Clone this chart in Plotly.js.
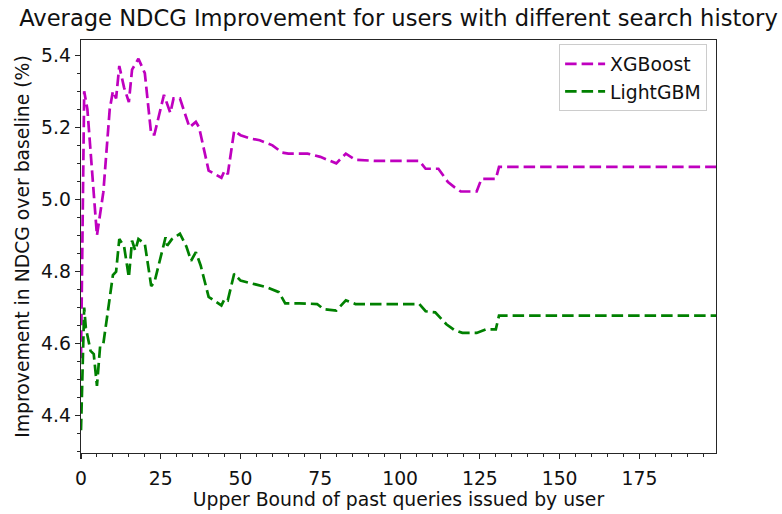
<!DOCTYPE html>
<html>
<head>
<meta charset="utf-8">
<script src="https://cdn.plot.ly/plotly-3.0.1.min.js"></script>
<style>html,body{margin:0;padding:0;background:#fff;}#chart{width:782px;height:514px;}</style>
</head>
<body>
<div id="chart"></div>
<script>
// Data
const xgbX = [0, 1, 2, 5, 7, 9, 10, 11, 12, 13.5, 15, 16, 18, 20, 22, 23, 26, 28, 29, 31, 34, 36, 37, 40, 44, 45, 46, 48, 50, 53, 56, 60, 63, 65, 71, 75, 80, 83, 86, 92, 106, 108, 112, 115, 117, 119, 124, 125.5, 130, 131, 199];
const xgbY = [4.56, 5.30, 5.25, 4.90, 5.02, 5.25, 5.30, 5.28, 5.37, 5.31, 5.27, 5.36, 5.39, 5.35, 5.18, 5.18, 5.29, 5.24, 5.28, 5.28, 5.20, 5.215, 5.20, 5.08, 5.06, 5.08, 5.07, 5.19, 5.178, 5.169, 5.164, 5.15, 5.13, 5.127, 5.127, 5.118, 5.10, 5.127, 5.11, 5.107, 5.107, 5.085, 5.085, 5.048, 5.034, 5.022, 5.022, 5.057, 5.057, 5.09, 5.09];

const lgbX = [0, 1, 1.5, 3, 4, 5, 6, 7, 10, 11, 12, 13.5, 15, 16, 17, 18, 20, 22, 23, 26.5, 27, 28.5, 31, 33, 34.5, 36, 37.5, 40, 44, 45, 46, 48, 50, 54, 58, 62, 64, 68.5, 74, 76, 80, 83, 86, 96, 106, 108, 111, 114.5, 117, 119.5, 124, 127, 130, 131, 199];
const lgbY = [4.36, 4.70, 4.645, 4.58, 4.571, 4.483, 4.594, 4.60, 4.79, 4.80, 4.89, 4.87, 4.784, 4.886, 4.858, 4.89, 4.877, 4.76, 4.77, 4.895, 4.872, 4.89, 4.905, 4.87, 4.83, 4.854, 4.817, 4.73, 4.706, 4.724, 4.72, 4.794, 4.775, 4.766, 4.757, 4.743, 4.712, 4.712, 4.71, 4.696, 4.692, 4.72, 4.71, 4.71, 4.71, 4.69, 4.687, 4.654, 4.638, 4.63, 4.63, 4.64, 4.64, 4.678, 4.678];

const xTicks = [0, 25, 50, 75, 100, 125, 150, 175];
const yTicks = [4.4, 4.6, 4.8, 5.0, 5.2, 5.4];

const FONT = 'DejaVu Sans, sans-serif';
const dashPattern = '11.5px,5px';
const FS = 18.8;

const traces = [
  {x: xgbX, y: xgbY, name: 'XGBoost', type: 'scatter', mode: 'lines',
   line: {color: '#bf00bf', width: 2.7, dash: dashPattern}},
  {x: lgbX, y: lgbY, name: 'LightGBM', type: 'scatter', mode: 'lines',
   line: {color: '#008000', width: 2.7, dash: dashPattern}}
];

const axisCommon = {
  showline: true, mirror: true, linecolor: '#262626', linewidth: 1.3,
  ticks: 'outside', ticklen: 5, tickwidth: 1.1, tickcolor: '#262626',
  showgrid: false, zeroline: false,
  tickfont: {family: FONT, size: FS, color: '#111'}
};

const layout = {
  width: 782, height: 514,
  margin: {l: 81, r: 66, t: 40, b: 61},
  paper_bgcolor: '#fff', plot_bgcolor: '#fff',
  showlegend: true,
  title: {text: 'Average NDCG Improvement for users with different search history',
          font: {family: FONT, size: 22.6, color: '#111'},
          x: 0.5, xref: 'paper', xanchor: 'center',
          y: 1 - 18/514, yref: 'container', yanchor: 'middle'},
  xaxis: Object.assign({}, axisCommon, {
    range: [0, 199], tickvals: xTicks, ticktext: xTicks.map(String),
    ticklabelstandoff: 3,
    minor: {dtick: 5, tick0: 0, ticks: 'outside', ticklen: 3, tickwidth: 1, tickcolor: '#262626'},
    title: {text: 'Upper Bound of past queries issued by user',
            font: {family: FONT, size: FS, color: '#111'}, standoff: 3}
  }),
  yaxis: Object.assign({}, axisCommon, {
    range: [4.297, 5.442], tickvals: yTicks, ticktext: yTicks.map(v => v.toFixed(1)),
    minor: {dtick: 0.05, tick0: 4.3, ticks: 'outside', ticklen: 3, tickwidth: 1, tickcolor: '#262626'},
    title: {text: 'Improvement in NDCG over baseline (%)',
            font: {family: FONT, size: FS, color: '#111'}, standoff: 6}
  }),
  legend: {x: 0.986, y: 0.99, xanchor: 'right', yanchor: 'top',
           bgcolor: 'rgba(255,255,255,0.8)', bordercolor: '#cccccc', borderwidth: 1,
           font: {family: FONT, size: FS, color: '#111'},
           itemwidth: 40, tracegroupgap: 6}
};

Plotly.newPlot('chart', traces, layout, {displayModeBar: false, staticPlot: true});
</script>
</body>
</html>
